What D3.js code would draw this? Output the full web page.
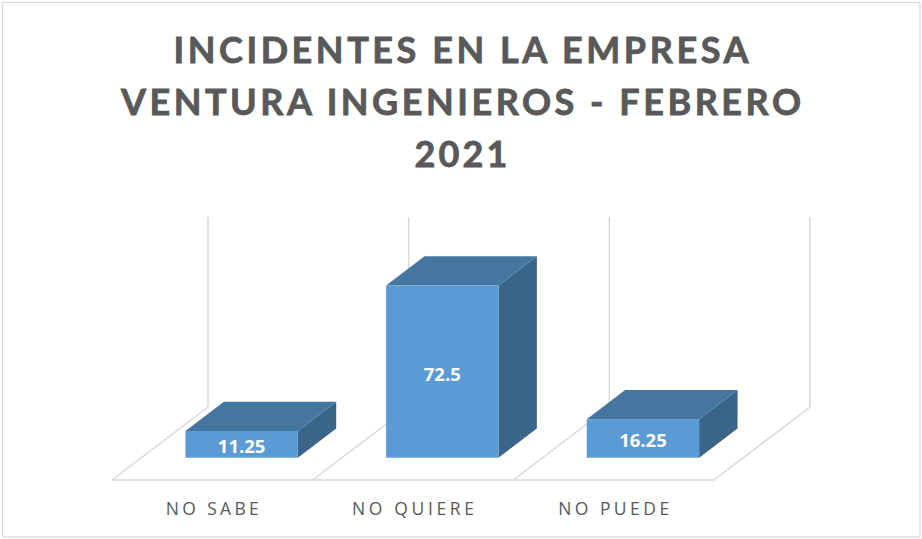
<!DOCTYPE html>
<html>
<head>
<meta charset="utf-8">
<script src="https://cdn.jsdelivr.net/npm/d3@7"></script>
<style>
  html, body { margin: 0; padding: 0; background: #fff; }
  svg { display: block; }
</style>
</head>
<body>
<svg id="chart" width="922" height="539"></svg>
<script>
// ---- data ----
const titleLines = ["INCIDENTES EN LA EMPRESA", "VENTURA INGENIEROS - FEBRERO", "2021"];
const categories = ["NO SABE", "NO QUIERE", "NO PUEDE"];
const values = [11.25, 72.5, 16.25];
const valueLabels = ["11.25", "72.5", "16.25"];
const yDomain = [0, 80];

// ---- layout ----
const W = 922, H = 539;
const floorFrontY = 480;
const depthVec = { dx: 96, dy: -73 };   // full floor depth (oblique projection)
const barDepth = [0.305, 0.705];        // bar front/back depth fractions
const barWidthFrac = 0.56;
const gridColor = "#D9D9D9";
const textColor = "#595959";

const svg = d3.select("#chart");

// outer border
svg.append("rect")
  .attr("x", 2.5).attr("y", 2.5).attr("width", W - 4.5).attr("height", H - 4.5)
  .attr("fill", "#fff").attr("stroke", gridColor).attr("stroke-width", 1.2);

const x = d3.scaleBand().domain(categories).range([112, 714]).paddingInner(0).paddingOuter(0);
const y = d3.scaleLinear().domain(yDomain).range([0, 190]);

// project (floor x, depth fraction, value) -> screen
function P(fx, d, v) {
  return [fx + depthVec.dx * d, floorFrontY + depthVec.dy * d - y(v)];
}

const edges = categories.map(c => x(c)).concat([x(categories[categories.length - 1]) + x.bandwidth()]);

const grid = svg.append("g").attr("stroke", gridColor).attr("stroke-width", 1.5).attr("fill", "none");
edges.forEach(e => {
  const a = P(e, 1, yDomain[0]), b = P(e, 1, yDomain[1]);
  grid.append("line").attr("x1", a[0]).attr("y1", a[1]).attr("x2", b[0]).attr("y2", b[1]);
});
edges.forEach(e => {
  const a = P(e, 0, 0), b = P(e, 1, 0);
  grid.append("line").attr("x1", a[0]).attr("y1", a[1]).attr("x2", b[0]).attr("y2", b[1]);
});
{
  const a = P(edges[0], 0, 0), b = P(edges[edges.length - 1], 0, 0);
  grid.append("line").attr("x1", a[0]).attr("y1", a[1]).attr("x2", b[0]).attr("y2", b[1]);
}

// bars
const bars = svg.append("g");
categories.forEach((c, i) => {
  const bw = x.bandwidth() * barWidthFrac;
  const x0 = x(c) + (x.bandwidth() - bw) / 2, x1 = x0 + bw;
  const v = values[i];
  const [d0, d1] = barDepth;
  const pts = a => a.map(p => p.join(",")).join(" ");
  bars.append("polygon")
    .attr("points", pts([P(x1, d0, 0), P(x1, d1, 0), P(x1, d1, v), P(x1, d0, v)]))
    .attr("fill", "#3A6489");
  bars.append("polygon")
    .attr("points", pts([P(x0, d0, v), P(x1, d0, v), P(x1, d1, v), P(x0, d1, v)]))
    .attr("fill", "#44769F");
  const fb = P(x0, d0, 0), ft = P(x1, d0, v);
  bars.append("rect")
    .attr("x", fb[0]).attr("y", ft[1]).attr("width", ft[0] - fb[0]).attr("height", fb[1] - ft[1])
    .attr("fill", "#5B9BD5");
  bars.append("text")
    .attr("x", (fb[0] + ft[0]) / 2)
    .attr("y", (fb[1] + ft[1]) / 2 + 9)
    .attr("text-anchor", "middle")
    .attr("font-family", "'Open Sans', sans-serif")
    .attr("font-weight", "bold")
    .attr("font-size", 18.5)
    .attr("fill", "#fff")
    .text(valueLabels[i]);
});

// fit helper: spread letters to a target width, compress if too wide
function fitText(sel, target) {
  const node = sel.node();
  const n = sel.text().length;
  const natural = node.getComputedTextLength();
  if (natural < target && n > 1) {
    const ls = (target - natural) / (n - 1);
    sel.attr("letter-spacing", ls);
    sel.attr("dx", ls / 2);
  } else {
    sel.attr("textLength", target).attr("lengthAdjust", "spacingAndGlyphs");
  }
}

// category labels
const catWidths = [93, 122, 111];
categories.forEach((c, i) => {
  const t = svg.append("text")
    .attr("x", x(c) + x.bandwidth() / 2)
    .attr("y", 515)
    .attr("text-anchor", "middle")
    .attr("font-family", "'Open Sans', sans-serif")
    .attr("font-size", 17.5)
    .attr("fill", textColor)
    .text(c);
  fitText(t, catWidths[i]);
});

// title
const titleBaselines = [62.7, 115, 166.7];
const titleWidths = [575, 680, 93];
titleLines.forEach((s, i) => {
  const t = svg.append("text")
    .attr("x", W / 2)
    .attr("y", titleBaselines[i])
    .attr("text-anchor", "middle")
    .attr("font-family", "Lato, 'Open Sans', sans-serif")
    .attr("font-weight", "bold")
    .attr("font-size", 36)
    .attr("fill", textColor)
    .attr("stroke", textColor)
    .attr("stroke-width", 0.8)
    .text(s);
  fitText(t, titleWidths[i]);
});
</script>
</body>
</html>
